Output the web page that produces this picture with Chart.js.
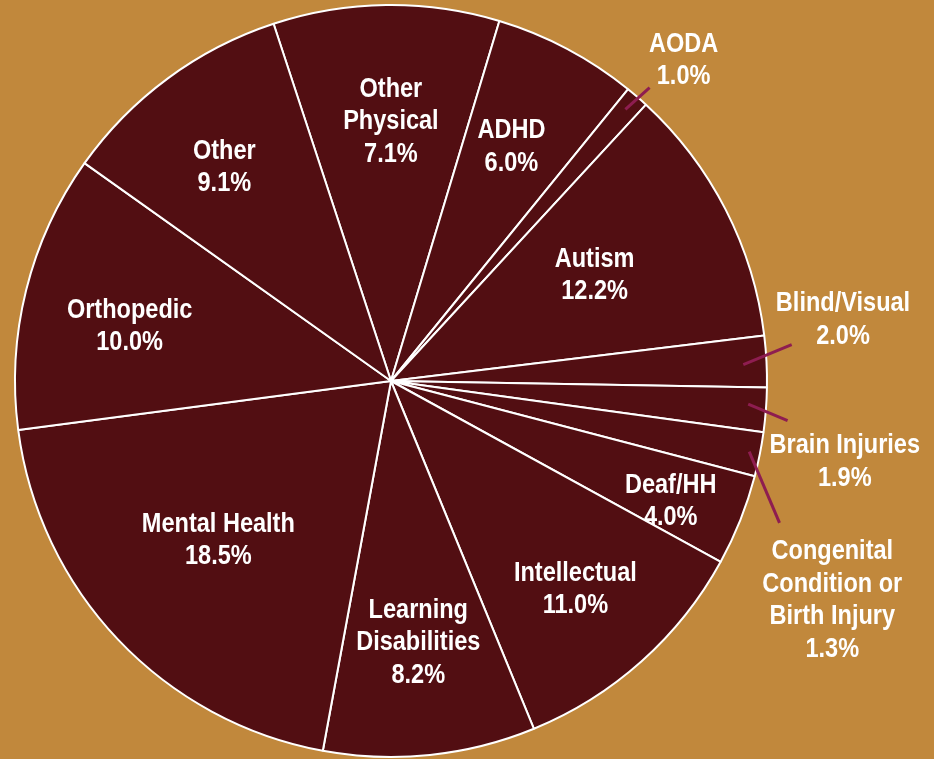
<!DOCTYPE html>
<html>
<head>
<meta charset="utf-8">
<script src="https://cdn.jsdelivr.net/npm/chart.js@4"></script>
<style>
  html, body { margin: 0; padding: 0; background: #C1883C; }
  #wrap { width: 934px; height: 759px; position: relative; }
</style>
</head>
<body>
<div id="wrap"><canvas id="c" width="934" height="759"></canvas></div>
<script>
// Categories (clockwise, starting at the top)
const categories = [
  ["Other", "Physical"], ["ADHD"], ["AODA"], ["Autism"], ["Blind/Visual"],
  ["Brain Injuries"], ["Congenital", "Condition or", "Birth Injury"], ["Deaf/HH"],
  ["Intellectual"], ["Learning", "Disabilities"], ["Mental Health"], ["Orthopedic"], ["Other"]
];
// Printed percentage labels
const percentLabels = ["7.1%", "6.0%", "1.0%", "12.2%", "2.0%", "1.9%", "1.3%", "4.0%", "11.0%", "8.2%", "18.5%", "10.0%", "9.1%"];
// Slice sizes as drawn in the picture (share of the circle, %)
const sliceShares = [9.7, 6.2, 1.0, 11.2, 2.2, 1.9, 1.9, 3.9, 10.8, 9.1, 20.0, 11.9, 10.1];

const BG = '#C1883C';
const SLICE = '#520E12';
const LEADER = '#8E1D50';
const FONT = '"Liberation Sans", Arial, sans-serif';
const TARGET_MH_WIDTH = 153; // width of "Mental Health" in the picture

// label placement: [radius fraction, angle offset (deg) from slice middle]
const placement = [
  [0.69, 0.7], [0.70, -0.7], [1.154, 1.5], [0.61, -0.3], [1.213, -4.7],
  [1.226, 5.7], [1.311, 15.2], [0.81, 1.6], [0.74, 0.3], [0.70, 0],
  [0.625, 0.8], [0.71, -2.2], [0.72, -1.6]
];
// leader lines: index -> [startFrac, startOff, endFrac, endOff]
const leaders = {
  2: [0.954, -0.1, 1.04, 0.5],
  4: [0.938, 0.3, 1.07, -2.2],
  5: [0.952, -0.7, 1.06, 1.3],
  6: [0.971, -0.1, 1.10, 8.8]
};

const labelPlugin = {
  id: 'sliceLabels',
  afterDatasetsDraw(chart) {
    const ctx = chart.ctx;
    const meta = chart.getDatasetMeta(0);
    const deg = Math.PI / 180;
    ctx.save();
    ctx.font = 'bold 27px ' + FONT;
    const sx = TARGET_MH_WIDTH / ctx.measureText('Mental Health').width;
    meta.data.forEach((arc, i) => {
      const {x, y, startAngle, endAngle, outerRadius} = arc.getProps(['x','y','startAngle','endAngle','outerRadius'], true);
      const mid = (startAngle + endAngle) / 2;
      if (leaders[i]) {
        const [sf, so, ef, eo] = leaders[i];
        const a1 = mid + so * deg, a2 = mid + eo * deg;
        ctx.beginPath();
        ctx.moveTo(x + Math.cos(a1) * outerRadius * sf, y + Math.sin(a1) * outerRadius * sf);
        ctx.lineTo(x + Math.cos(a2) * outerRadius * ef, y + Math.sin(a2) * outerRadius * ef);
        ctx.strokeStyle = LEADER;
        ctx.lineWidth = 3;
        ctx.stroke();
      }
      const [rf, off] = placement[i];
      const a = mid + off * deg;
      const cx = x + Math.cos(a) * outerRadius * rf;
      const cy = y + Math.sin(a) * outerRadius * rf;
      const lines = categories[i].concat([percentLabels[i]]);
      const lh = 32.5;
      ctx.fillStyle = '#FFFFFF';
      ctx.textAlign = 'center';
      ctx.textBaseline = 'middle';
      const top = cy - (lines.length - 1) * lh / 2;
      lines.forEach((t, k) => {
        ctx.save();
        ctx.translate(cx, top + k * lh);
        ctx.scale(sx, 1);
        ctx.fillText(t, 0, 0);
        ctx.restore();
      });
    });
    ctx.restore();
  }
};

new Chart(document.getElementById('c'), {
  type: 'pie',
  data: {
    labels: categories,
    datasets: [{
      data: sliceShares,
      backgroundColor: SLICE,
      borderColor: '#FFFFFF',
      borderWidth: 2
    }]
  },
  options: {
    responsive: false,
    animation: false,
    rotation: -18.2,
    layout: { padding: { left: 14, right: 166, top: 4, bottom: 1 } },
    plugins: { legend: { display: false }, tooltip: { enabled: false } }
  },
  plugins: [labelPlugin]
});
</script>
</body>
</html>
